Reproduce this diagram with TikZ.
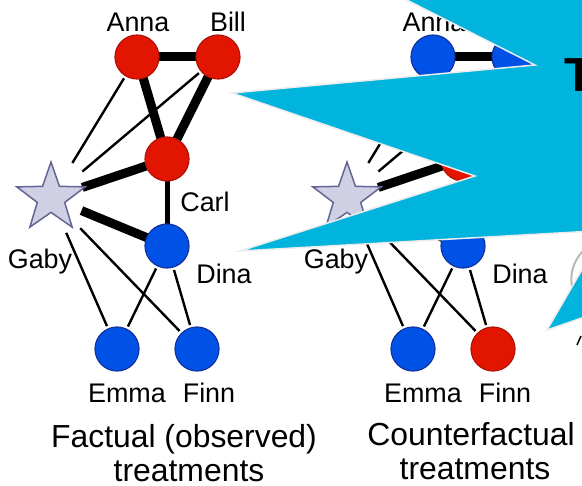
\documentclass[tikz,border=0pt]{standalone}
\usepackage{fontspec}
\setmainfont{Liberation Sans}
\usetikzlibrary{shapes.geometric}
\pgfdeclarelayer{bg}
\pgfdeclarelayer{edges}
\pgfsetlayers{bg,edges,main}
\definecolor{cyanbox}{RGB}{0,180,222}
\definecolor{nodered}{RGB}{226,22,0}
\definecolor{nodereddark}{RGB}{175,20,10}
\definecolor{nodeblue}{RGB}{0,82,230}
\definecolor{nodebluedark}{RGB}{20,50,160}
\definecolor{starfill}{RGB}{208,208,228}
\definecolor{stardraw}{RGB}{100,100,150}
\begin{document}
\begin{tikzpicture}[x=1bp,y=-1bp,
  person/.style={circle, minimum size=44bp, inner sep=0pt, line width=1.2bp},
  rednode/.style={person, fill=nodered, draw=nodereddark},
  bluenode/.style={person, fill=nodeblue, draw=nodebluedark},
  starnode/.style={star, star points=5, star point ratio=2.5, minimum size=72bp, inner sep=0pt, fill=starfill, draw=stardraw, line width=1.5bp},
  lbl/.style={anchor=base, inner sep=0pt, font=\fontsize{27}{30}\selectfont},
  captext/.style={anchor=base, inner sep=0pt, font=\fontsize{32}{36}\selectfont},
  bigedge/.style={line width=9bp},
  midedge/.style={line width=5bp},
  thinedge/.style={line width=2.4bp, shorten <=25bp, shorten >=25bp},
]
\useasboundingbox (0,0) rectangle (582,486);
\begin{pgfonlayer}{bg}
\fill[white] (0,0) rectangle (582,486);
\end{pgfonlayer}

% ---------- left graph ----------
\node[rednode] (a1) at (137,57) {};
\node[rednode] (b1) at (218,57) {};
\node[rednode] (c1) at (167,159) {};
\node[bluenode] (d1) at (167,246) {};
\node[bluenode] (e1) at (117,349) {};
\node[bluenode] (f1) at (197,349) {};
\node[starnode] (g1) at (51,198) {};

\node[lbl] (la1) at (138,32) {Anna};
\node[lbl] (lb1) at (228,32) {Bill};
\node[lbl] (lc1) at (205,212) {Carl};
\node[lbl] (lg1) at (40,268) {Gaby};
\node[lbl] (ld1) at (224,283) {Dina};
\node[lbl] (le1) at (127,402) {Emma};
\node[lbl] (lf1) at (209,402) {Finn};
\node[captext] (cap1a) at (184,447) {Factual (observed)};
\node[captext] (cap1b) at (189,481) {treatments};

% ---------- right graph ----------
\node[bluenode] (a2) at (433,57) {};
\node[bluenode] (b2) at (514,57) {};
\node[rednode] (c2) at (463,159) {};
\node[bluenode] (d2) at (463,246) {};
\node[bluenode] (e2) at (413,349) {};
\node[rednode] (f2) at (493,349) {};
\node[starnode] (g2) at (347,198) {};

\node[lbl] (la2) at (434,32) {Anna};
\node[lbl] (lb2) at (524,32) {Bill};
\node[lbl] (lc2) at (501,212) {Carl};
\node[lbl] (lg2) at (336,268) {Gaby};
\node[lbl] (ld2) at (520,283) {Dina};
\node[lbl] (le2) at (423,402) {Emma};
\node[lbl] (lf2) at (505,402) {Finn};
\node[captext] (cap2a) at (471,445) {Counterfactual};
\node[captext] (cap2b) at (475,479) {treatments};

\begin{pgfonlayer}{edges}
\foreach \i in {1,2}{
  \draw[bigedge] (a\i.center) -- (b\i.center);
  \draw[bigedge] (a\i.center) -- (c\i.center);
  \draw[bigedge] (b\i.center) -- (c\i.center);
  \draw[bigedge, shorten <=33bp] (g\i.center) -- (c\i.center);
  \draw[bigedge, shorten <=33bp] (g\i.center) -- (d\i.center);
  \draw[midedge] (c\i.center) -- (d\i.center);
  \draw[thinedge, shorten <=41bp] (g\i.center) -- (a\i.center);
  \draw[thinedge, shorten <=41bp] (g\i.center) -- (b\i.center);
  \draw[thinedge, shorten <=38bp] (g\i.center) -- (e\i.center);
  \draw[thinedge, shorten <=42bp] (g\i.center) -- (f\i.center);
  \draw[thinedge] (d\i.center) -- (e\i.center);
  \draw[thinedge] (d\i.center) -- (f\i.center);
}
\end{pgfonlayer}

% ---------- fragments at the right edge ----------
\draw[gray!55, line width=2bp] (583,251) .. controls (572,262) and (569,278) .. (573,290);
\draw[line width=1.5bp] (577,345) -- (581,336);

% ---------- cyan callout ----------
\begin{scope}
\clip (0,0) rectangle (582,486);
\filldraw[fill=cyanbox, draw=gray!15, line width=1.5bp, line join=miter]
  (387,-10) -- (535,65) -- (232,93) -- (475,176) -- (240,251) -- (700,225) -- (700,-10) -- cycle;
\filldraw[fill=cyanbox, draw=gray!15, line width=1.5bp, line join=miter]
  (547,330) -- (605,230) -- (700,224) -- (700,277) -- cycle;
\node[anchor=base west, inner sep=0pt, font=\fontsize{48}{50}\selectfont\bfseries] (tt) at (564,92) {T};
\end{scope}
\end{tikzpicture}
\end{document}
